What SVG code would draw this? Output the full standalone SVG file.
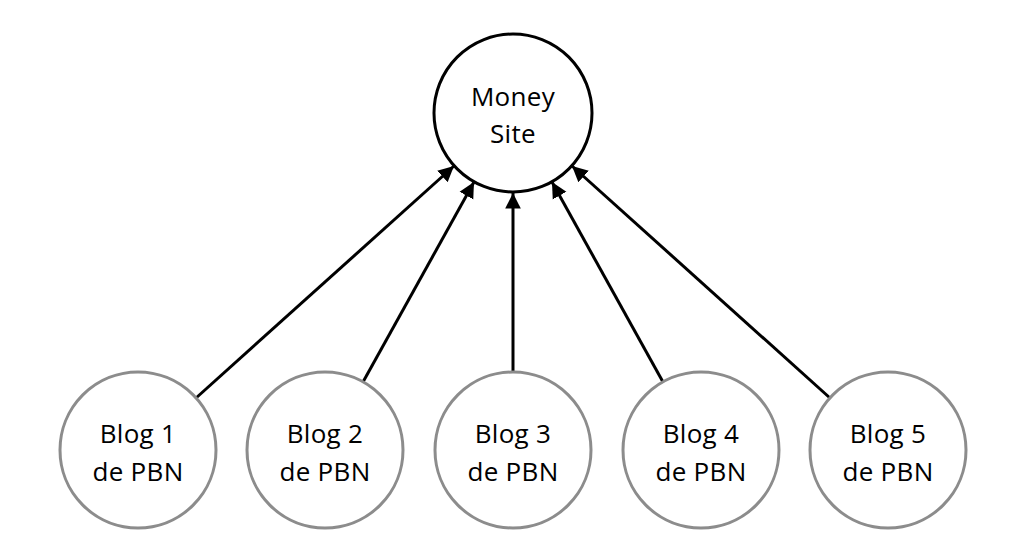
<svg xmlns="http://www.w3.org/2000/svg" width="1024" height="550" viewBox="0 0 1024 550">
<style>
.hub{fill:#fff;stroke:#000;stroke-width:3}
.blog{fill:#fff;stroke:#8c8c8c;stroke-width:3}
.t{font-family:"Open Sans","Liberation Sans",sans-serif;font-size:26px;fill:#000;text-anchor:middle;letter-spacing:0.3px}
.c{stroke:#000;stroke-width:3;fill:none;marker-end:url(#ah)}
</style>
<defs>
<marker id="ah" viewBox="0 0 10 10" refX="10" refY="5" markerWidth="5.2" markerHeight="5.8" orient="auto" markerUnits="strokeWidth">
<path d="M0,0 L10,5 L0,10 z" fill="#000"/>
</marker>
</defs>
<rect width="1024" height="550" fill="#fff"/>
<g id="connectors">
<line class="c" x1="196" y1="398" x2="454" y2="166"/>
<line class="c" x1="363" y1="382" x2="474" y2="182"/>
<line class="c" x1="513" y1="372" x2="513" y2="193"/>
<line class="c" x1="663" y1="382" x2="552" y2="182"/>
<line class="c" x1="830" y1="398" x2="572" y2="166"/>
</g>
<g id="money-site">
<circle class="hub" cx="513" cy="113" r="79"/>
<text class="t" x="513" y="106">Money</text>
<text class="t" x="513" y="143">Site</text>
</g>
<g id="blog1">
<circle class="blog" cx="138" cy="450" r="78"/>
<text class="t" x="138" y="443">Blog 1</text>
<text class="t" x="138" y="481">de PBN</text>
</g>
<g id="blog2">
<circle class="blog" cx="325" cy="450" r="78"/>
<text class="t" x="325" y="443">Blog 2</text>
<text class="t" x="325" y="481">de PBN</text>
</g>
<g id="blog3">
<circle class="blog" cx="513" cy="450" r="78"/>
<text class="t" x="513" y="443">Blog 3</text>
<text class="t" x="513" y="481">de PBN</text>
</g>
<g id="blog4">
<circle class="blog" cx="701" cy="450" r="78"/>
<text class="t" x="701" y="443">Blog 4</text>
<text class="t" x="701" y="481">de PBN</text>
</g>
<g id="blog5">
<circle class="blog" cx="888" cy="450" r="78"/>
<text class="t" x="888" y="443">Blog 5</text>
<text class="t" x="888" y="481">de PBN</text>
</g>
</svg>
